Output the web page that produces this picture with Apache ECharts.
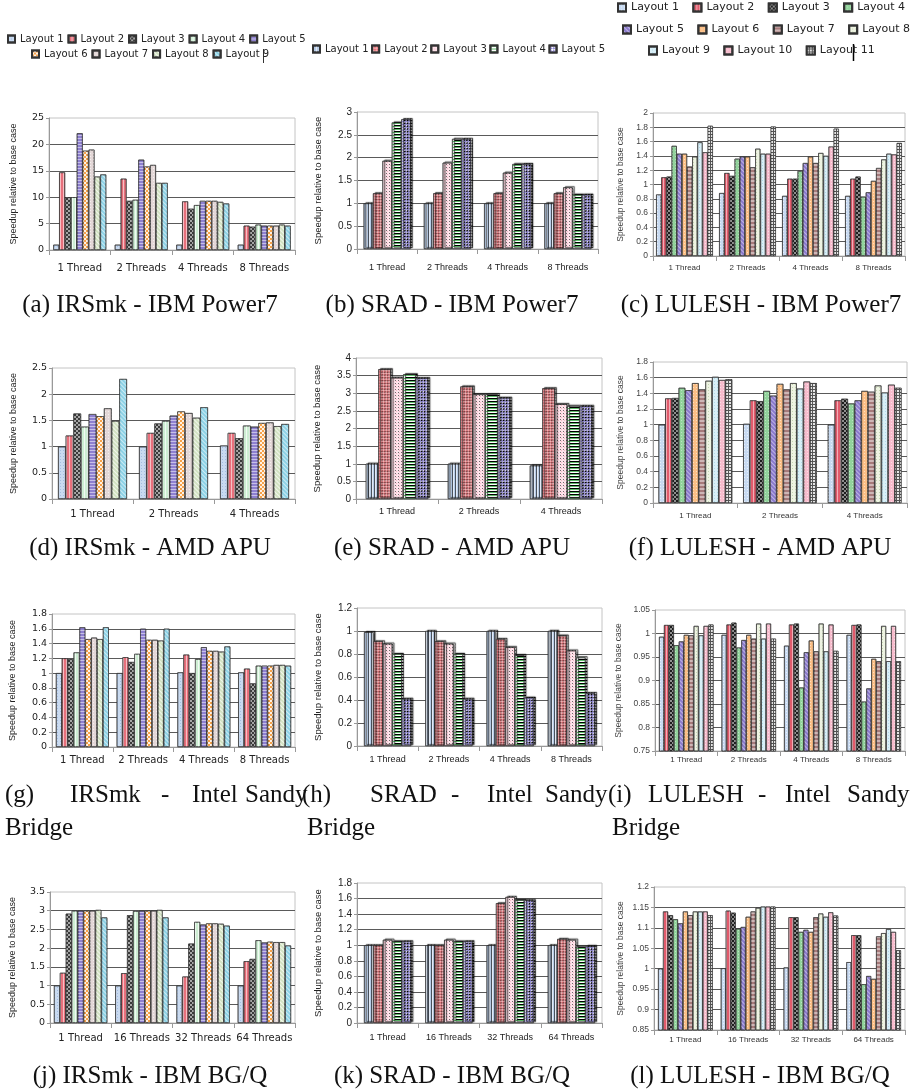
<!DOCTYPE html>
<html>
<head>
<meta charset="utf-8">
<script src="https://cdn.jsdelivr.net/npm/echarts@6/dist/echarts.min.js"></script>
<style>
html,body{margin:0;padding:0;background:#fff;}
#chart{width:915px;height:1092px;}
</style>
</head>
<body>
<div id="chart"></div>
<script>
// ---------- categories ----------
const threads4 = ['1 Thread', '2 Threads', '4 Threads', '8 Threads'];
const threads3 = ['1 Thread', '2 Threads', '4 Threads'];
const threadsBGQ = ['1 Thread', '16 Threads', '32 Threads', '64 Threads'];

const irsmkLayouts = ['Layout 1','Layout 2','Layout 3','Layout 4','Layout 5','Layout 6','Layout 7','Layout 8','Layout 9'];
const sradLayouts = ['Layout 1','Layout 2','Layout 3','Layout 4','Layout 5'];
const luleshLayouts = ['Layout 1','Layout 2','Layout 3','Layout 4','Layout 5','Layout 6','Layout 7','Layout 8','Layout 9','Layout 10','Layout 11'];

// ---------- values: one row per thread group, one entry per layout ----------
const irsmkPower7 = [[1,14.7,10,10,22.1,18.8,19,13.9,14.3],[1,13.5,9.3,9.5,17.1,15.8,16.1,12.7,12.7],[1,9.2,7.8,8.5,9.3,9.3,9.3,9.1,8.8],[1,4.6,4.4,4.8,4.6,4.6,4.6,4.8,4.6]];
const sradPower7 = [[1,1.22,1.93,2.77,2.84],[1,1.22,1.89,2.41,2.41],[1,1.22,1.67,1.86,1.86],[1,1.22,1.35,1.19,1.19]];
const luleshPower7 = [[0.86,1.10,1.11,1.54,1.43,1.43,1.25,1.39,1.59,1.45,1.82],[0.88,1.16,1.12,1.36,1.39,1.39,1.24,1.50,1.43,1.43,1.81],[0.84,1.08,1.08,1.19,1.30,1.39,1.30,1.44,1.40,1.53,1.78],[0.84,1.08,1.11,0.83,0.89,1.05,1.23,1.35,1.43,1.42,1.58]];
const irsmkAPU = [[1,1.21,1.63,1.38,1.62,1.58,1.73,1.49,2.29],[1,1.26,1.44,1.49,1.59,1.67,1.64,1.55,1.75],[1.02,1.26,1.16,1.40,1.38,1.45,1.46,1.39,1.43]];
const sradAPU = [[1,3.68,3.44,3.54,3.43],[1,3.19,2.97,2.97,2.87],[0.95,3.14,2.69,2.64,2.64]];
const luleshAPU = [[1,1.335,1.34,1.47,1.44,1.53,1.45,1.56,1.61,1.57,1.58],[1.01,1.31,1.30,1.43,1.37,1.52,1.45,1.53,1.46,1.55,1.53],[1,1.31,1.33,1.27,1.31,1.43,1.42,1.50,1.41,1.51,1.47]];
const irsmkSandy = [[1,1.2,1.19,1.28,1.62,1.46,1.48,1.46,1.62],[1,1.215,1.15,1.26,1.6,1.45,1.45,1.44,1.6],[1.01,1.25,1.0,1.19,1.35,1.3,1.3,1.29,1.36],[1.01,1.06,0.86,1.1,1.1,1.1,1.11,1.11,1.1]];
const sradSandy = [[0.99,0.91,0.89,0.8,0.41],[1,0.91,0.89,0.8,0.41],[1,0.93,0.86,0.79,0.42],[1,0.96,0.83,0.77,0.46]];
const luleshSandy = [[0.993,1.018,1.018,0.975,0.983,0.997,0.996,1.016,0.996,1.016,1.019],[0.997,1.019,1.023,0.97,0.986,0.997,0.989,1.021,0.989,1.021,0.989],[0.974,1.019,1.021,0.885,0.96,0.985,0.962,1.021,0.962,1.019,0.963],[0.997,1.018,1.019,0.855,0.883,0.946,0.941,1.016,0.941,1.016,0.941]];
const irsmkBGQ = [[1,1.34,2.92,3.0,3.0,3.0,3.0,3.02,2.82],[1,1.33,2.88,2.99,3.0,3.0,3.0,3.02,2.82],[1,1.24,2.12,2.7,2.63,2.66,2.66,2.65,2.6],[1,1.65,1.71,2.21,2.15,2.17,2.16,2.16,2.07]];
const sradBGQ = [[1,1,1.07,1.05,1.05],[1,1,1.07,1.05,1.05],[1,1.54,1.62,1.58,1.58],[1,1.08,1.07,0.98,0.99]];
const luleshBGQ = [[1.0,1.14,1.131,1.121,1.111,1.14,1.131,1.14,1.14,1.14,1.131],[1.001,1.142,1.137,1.098,1.102,1.127,1.14,1.149,1.152,1.152,1.152],[1.003,1.126,1.126,1.09,1.095,1.09,1.126,1.135,1.127,1.138,1.13],[1.016,1.082,1.082,0.962,0.982,0.975,1.079,1.087,1.097,1.09,1.045]];

// ---------- styles ----------
const D = {
  vstripe: c => ({symbol:'rect', symbolSize:1, dashArrayX:[1,2], dashArrayY:[1,0], color:c}),
  hstripe: c => ({symbol:'rect', symbolSize:1, dashArrayX:[1,0], dashArrayY:[1,2], color:c}),
  hband: c => ({symbol:'rect', symbolSize:1, dashArrayX:[1,0], dashArrayY:[2,2], color:c}),
  checker: c => ({symbol:'rect', symbolSize:1, dashArrayX:[[2,2],[0,2,2,0]], dashArrayY:[2,0], color:c}),
  dots: c => ({symbol:'rect', symbolSize:1, dashArrayX:[1,2], dashArrayY:[1,2], color:c}),
  diag: c => ({symbol:'rect', symbolSize:1, dashArrayX:[1,0], dashArrayY:[1,2], rotation:Math.PI/4, color:c}),
  cross: c => ({symbol:'rect', symbolSize:1, dashArrayX:[[2,2],[0,2,2,0]], dashArrayY:[2,0], rotation:Math.PI/4, color:c}),
  brick: c => ({symbol:'rect', symbolSize:1, dashArrayX:[2,1], dashArrayY:[2,1], color:c})
};
const irsmkStyles = [
  {color:'#c9daf0', decal:D.dots('rgba(140,170,215,0.6)')},
  {color:'#e8707c', decal:D.vstripe('rgba(255,255,255,0.55)')},
  {color:'#3a3a3a', decal:D.checker('rgba(255,255,255,0.55)')},
  {color:'#cdeed3', decal:D.vstripe('rgba(255,255,255,0.7)')},
  {color:'#8e80d0', decal:D.hstripe('rgba(255,255,255,0.5)')},
  {color:'#f6a24a', decal:D.checker('rgba(255,255,255,0.85)')},
  {color:'#e3d7d7', decal:D.dots('rgba(255,255,255,0.6)')},
  {color:'#d2e2c2', decal:D.diag('rgba(255,255,255,0.7)')},
  {color:'#8dd2e6', decal:D.diag('rgba(255,255,255,0.55)')}
];
const sradStyles = [
  {color:'#b7cbe6', decal:D.vstripe('rgba(255,255,255,0.6)')},
  {color:'#ea7379', decal:D.cross('rgba(255,255,255,0.45)')},
  {color:'#fde3ea', decal:D.dots('rgba(240,150,170,0.55)')},
  {color:'#ffffff', decal:D.hstripe('#5fba6a')},
  {color:'#ffffff', decal:D.cross('#9088d4')}
];
const luleshStyles = [
  {color:'#c8daf1', decal:D.dots('rgba(255,255,255,0.6)')},
  {color:'#e15b6c', decal:D.vstripe('rgba(255,255,255,0.5)')},
  {color:'#1e1e1e', decal:D.checker('rgba(255,255,255,0.5)')},
  {color:'#92d39c', decal:D.dots('rgba(255,255,255,0.4)')},
  {color:'#8a79cc', decal:D.diag('rgba(255,255,255,0.45)')},
  {color:'#fbbf86', decal:D.dots('rgba(255,255,255,0.5)')},
  {color:'#a67a7a', decal:D.hband('rgba(255,255,255,0.45)')},
  {color:'#eef3e2', decal:D.dots('rgba(170,195,150,0.6)')},
  {color:'#d9eff7', decal:D.dots('rgba(140,195,220,0.5)')},
  {color:'#f7bccd', decal:D.dots('rgba(255,255,255,0.5)')},
  {color:'#555555', decal:D.brick('rgba(255,255,255,0.85)')}
];

const columns = [
  {prefix:'IRSmk', layouts:irsmkLayouts, styles:irsmkStyles,
   yFont:{fontFamily:'DejaVu Sans', fontSize:9.5, color:'#222'},
   xFont:{fontFamily:'DejaVu Sans', fontSize:10, color:'#222'},
   nFont:{fontFamily:'Liberation Sans', fontSize:9, color:'#222'}, shadow:false},
  {prefix:'SRAD', layouts:sradLayouts, styles:sradStyles,
   yFont:{fontFamily:'Liberation Sans', fontSize:10, color:'#222'},
   xFont:{fontFamily:'Liberation Sans', fontSize:9, color:'#222'},
   nFont:{fontFamily:'Liberation Sans', fontSize:9.5, color:'#222'}, shadow:true},
  {prefix:'LULESH', layouts:luleshLayouts, styles:luleshStyles,
   yFont:{fontFamily:'Liberation Sans', fontSize:8.5, color:'#444'},
   xFont:{fontFamily:'Liberation Sans', fontSize:8, color:'#333'},
   nFont:{fontFamily:'Liberation Sans', fontSize:8.5, color:'#444'}, shadow:false}
];

const panels = [
  {data:irsmkPower7, col:0, cats:threads4, min:0, max:25, step:5, box:[49,118,246,132], gap:'14%', lm:13, ng:31},
  {data:sradPower7, col:1, cats:threads4, min:0, max:3, step:0.5, box:[357,112,241,137], gap:'22%', lm:14, ng:34},
  {data:luleshPower7, col:2, cats:threads4, min:0, max:2, step:0.2, box:[653,113,252,143], gap:'10%', lm:8, ng:28},
  {data:irsmkAPU, col:0, cats:threads3, min:0, max:2.5, step:0.5, box:[52,368,243,131], gap:'15%', lm:10, ng:34},
  {data:sradAPU, col:1, cats:threads3, min:0, max:4, step:0.5, box:[356,358,246,141], gap:'24%', lm:8, ng:34},
  {data:luleshAPU, col:2, cats:threads3, min:0, max:1.8, step:0.2, box:[653,362,254,141], gap:'13%', lm:9, ng:28},
  {data:irsmkSandy, col:0, cats:threads4, min:0, max:1.8, step:0.2, box:[52,614,243,133], gap:'13%', lm:8, ng:35},
  {data:sradSandy, col:1, cats:threads4, min:0, max:1.2, step:0.2, box:[357,608,245,138], gap:'23%', lm:9, ng:34},
  {data:luleshSandy, col:2, cats:threads4, min:0.75, max:1.05, step:0.05, box:[655,610,250,141], gap:'13%', lm:5, ng:32},
  {data:irsmkBGQ, col:0, cats:threadsBGQ, min:0, max:3.5, step:0.5, box:[50,892,245,131], gap:'13%', lm:10, ng:33},
  {data:sradBGQ, col:1, cats:threadsBGQ, min:0, max:1.8, step:0.2, box:[357,883,245,140], gap:'23%', lm:10, ng:34},
  {data:luleshBGQ, col:2, cats:threadsBGQ, min:0.85, max:1.2, step:0.05, box:[654,887,251,143], gap:'13%', lm:6, ng:29}
];

const grids = [], xAxes = [], yAxes = [], series = [];
panels.forEach((p, i) => {
  const c = columns[p.col];
  grids.push({left:p.box[0], top:p.box[1], width:p.box[2], height:p.box[3],
    show:true, borderColor:'#c4c4c4', borderWidth:1, backgroundColor:'rgba(0,0,0,0)'});
  xAxes.push({type:'category', gridIndex:i, data:p.cats,
    axisLine:{show:true, lineStyle:{color:'#999', width:1}},
    axisTick:{show:true, length:5, interval:0, lineStyle:{color:'#999'}},
    axisLabel:Object.assign({interval:0, margin:p.lm}, c.xFont),
    splitLine:{show:false}});
  yAxes.push({type:'value', gridIndex:i, min:p.min, max:p.max, interval:p.step,
    axisLine:{show:true, lineStyle:{color:'#999', width:1}},
    axisTick:{show:true, length:3, lineStyle:{color:'#999'}},
    axisLabel:Object.assign({margin:5}, c.yFont),
    splitLine:{show:true, showMinLine:false, showMaxLine:false, lineStyle:{color:'#5a5a5a', width:1}},
    name:'Speedup relative to base case', nameLocation:'middle', nameGap:p.ng,
    nameTextStyle:c.nFont});
  c.layouts.forEach((lname, j) => {
    const st = c.styles[j];
    const itemStyle = {color:st.color, decal:st.decal, borderColor:'#333', borderWidth:0.6};
    if (c.shadow) { itemStyle.shadowColor = 'rgba(0,0,0,0.3)'; itemStyle.shadowOffsetX = 2; itemStyle.shadowOffsetY = -1; itemStyle.shadowBlur = 1; }
    series.push({type:'bar', name:c.prefix + '|' + lname, xAxisIndex:i, yAxisIndex:i,
      data:p.data.map(g => g[j]), barGap:'0%', barCategoryGap:p.gap,
      itemStyle:itemStyle, emphasis:{disabled:true}, animation:false});
  });
});

function mkLegend(col, from, to, left, top, font, icon, gap) {
  const c = columns[col];
  return {data:c.layouts.slice(from, to).map(n => c.prefix + '|' + n),
    formatter:n => n.split('|')[1], left:left, top:top, orient:'horizontal',
    padding:0, itemWidth:icon, itemHeight:icon, itemGap:gap, icon:'rect', selectedMode:false,
    textStyle:{fontFamily:'DejaVu Sans', fontSize:font, color:'#222'}};
}
const legends = [
  mkLegend(0, 0, 5, 7, 34, 10, 7, 4),
  mkLegend(0, 5, 9, 31, 49, 10, 7, 4),
  mkLegend(1, 0, 5, 312, 44, 10, 7, 2.6),
  mkLegend(2, 0, 4, 617, 2, 11, 8, 13.5),
  mkLegend(2, 4, 8, 622, 24, 11, 8, 13.5),
  mkLegend(2, 8, 11, 648, 45, 11, 8, 13.5)
];

// ---------- captions ----------
const capFont = '25px "Liberation Serif"';
function cap(text, x, y, align) {
  return {type:'text', x:x, y:y, silent:true,
    style:{text:text, font:capFont, fill:'#111', textAlign:align || 'center', verticalAlign:'middle', textVerticalAlign:'middle'}};
}
const graphics = [
  cap('(a) IRSmk - IBM Power7', 150, 305), cap('(b) SRAD - IBM Power7', 452, 305), cap('(c) LULESH - IBM Power7', 761, 305),
  cap('(d) IRSmk - AMD APU', 150, 548), cap('(e) SRAD - AMD APU', 452, 548), cap('(f) LULESH - AMD APU', 760, 548),
  cap('(g)', 5, 795, 'left'), cap('IRSmk', 70, 795, 'left'), cap('-', 161, 795, 'left'), cap('Intel', 192, 795, 'left'), cap('Sandy', 245, 795, 'left'),
  cap('(h)', 302, 795, 'left'), cap('SRAD', 370, 795, 'left'), cap('-', 451, 795, 'left'), cap('Intel', 487, 795, 'left'), cap('Sandy', 545, 795, 'left'),
  cap('(i)', 608, 795, 'left'), cap('LULESH', 648, 795, 'left'), cap('-', 758, 795, 'left'), cap('Intel', 785, 795, 'left'), cap('Sandy', 847, 795, 'left'),
  cap('Bridge', 5, 828, 'left'), cap('Bridge', 307, 828, 'left'), cap('Bridge', 612, 828, 'left'),
  cap('(j) IRSmk - IBM BG/Q', 150, 1076), cap('(k) SRAD - IBM BG/Q', 452, 1076), cap('(l) LULESH - IBM BG/Q', 760, 1076),
  {type:'line', silent:true, shape:{x1:853.5, y1:44, x2:853.5, y2:61}, style:{stroke:'#000', lineWidth:1.5}},
  {type:'line', silent:true, shape:{x1:263.5, y1:49, x2:263.5, y2:63}, style:{stroke:'#333', lineWidth:1}}
];

const chart = echarts.init(document.getElementById('chart'), null, {renderer:'canvas'});
chart.setOption({
  animation:false,
  backgroundColor:'#fff',
  grid:grids, xAxis:xAxes, yAxis:yAxes, legend:legends, series:series, graphic:graphics
});
</script>
</body>
</html>
